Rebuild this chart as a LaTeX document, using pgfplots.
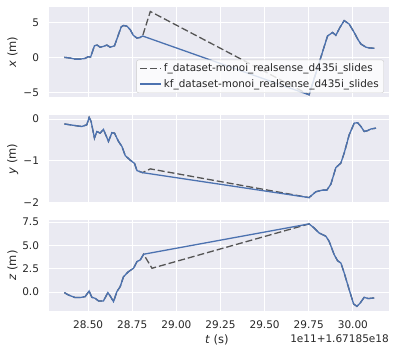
\documentclass[border=0pt]{standalone}
\usepackage{fontspec}
\setmainfont{DejaVu Sans}
\usepackage{pgfplots}
\pgfplotsset{compat=1.18}
\definecolor{bgc}{HTML}{EAEAF2}
\definecolor{kfblue}{HTML}{4C72B0}
\definecolor{fgray}{HTML}{555555}
\definecolor{txt}{HTML}{262626}
\pgfplotsset{
 sns/.style={
  scale only axis, width=340pt,
  axis background/.style={fill=bgc},
  axis line style={draw=none},
  grid=major, major grid style={white, line width=0.9pt},
  major tick length=0pt,
  xmin=28.2784, xmax=30.2045,
  xtick={28.5,28.75,29,29.25,29.5,29.75,30},
  tick label style={font=\fontsize{10.5}{12}\selectfont, text=txt},
  yticklabel style={anchor=east, xshift=-6.5pt},
  xticklabel style={anchor=center, yshift=-14pt},
  ylabel style={at={(axis description cs:-0.107,0.5)}, anchor=center, font=\fontsize{11.5}{13}\selectfont, text=txt},
  xlabel style={at={(axis description cs:0.494,0)}, anchor=center, yshift=-29pt, font=\fontsize{11.5}{13}\selectfont, text=txt},
 },
 fst/.style={color=fgray, line width=1.3pt, dash pattern=on 7pt off 3pt},
 kfst/.style={color=kfblue, line width=1.3pt},
}
\begin{document}
\begin{tikzpicture}
\path[use as bounding box] (0,0) rectangle (396pt,353pt);
% panel x
\begin{axis}[sns, name=p1, at={(49pt,256pt)}, anchor=south west, height=90pt,
  ymin=-5.61, ymax=7.24, ytick={-5,0,5}, yticklabels={−5,0,5}, xticklabels={},
  ylabel={\textit{x} (m)},
  legend cell align=left,
  legend image code/.code={\draw[#1, line width=1.3pt] (0pt,0pt) -- (21pt,0pt);},
  legend style={at={(0.985,0.045)}, anchor=south east, draw=black!20, fill=white, fill opacity=0.8, text opacity=1, rounded corners=2pt, font=\fontsize{10.4}{12.5}\selectfont, text=txt, row sep=2pt, /tikz/every even column/.append style={column sep=5pt}},
]
\addplot[fst] coordinates {
(28.3653,0.05) (28.3977,-0.05) (28.4261,-0.2) (28.4545,-0.2) (28.4830,-0.1) (28.5,0.14) (28.5142,0.1) (28.5358,1.7) (28.5511,1.8) (28.5682,1.5) (28.5852,1.6) (28.6063,1.8) (28.625,1.5) (28.6494,1.7) (28.6705,3.2) (28.6875,4.4) (28.7006,4.6) (28.7199,4.5) (28.7386,4.0) (28.7557,3.2) (28.7767,2.8) (28.7955,2.9) (28.8085,3.1)
(28.8523,6.6)
(29.7517,-5.3) (29.7898,-2.24) (29.8182,0.04) (29.8563,3.1) (29.8847,3.6) (29.9034,3.2) (29.9261,4.3) (29.9506,5.3) (29.9790,4.8) (30.0074,3.6) (30.0284,2.6) (30.0455,1.95) (30.0739,1.5) (30.0966,1.38) (30.1210,1.35)
};
\addlegendentry{f\_dataset-monoi\_realsense\_d435i\_slides}
\addplot[kfst] coordinates {
(28.3653,0.05) (28.3977,-0.05) (28.4261,-0.2) (28.4545,-0.2) (28.4830,-0.1) (28.5,0.14) (28.5142,0.1) (28.5358,1.7) (28.5511,1.8) (28.5682,1.5) (28.5852,1.6) (28.6063,1.8) (28.625,1.5) (28.6494,1.7) (28.6705,3.2) (28.6875,4.4) (28.7006,4.6) (28.7199,4.5) (28.7386,4.0) (28.7557,3.2) (28.7767,2.8) (28.7955,2.9) (28.8085,3.1)
(29.7517,-5.3) (29.7898,-2.24) (29.8182,0.04) (29.8563,3.1) (29.8847,3.6) (29.9034,3.2) (29.9261,4.3) (29.9506,5.3) (29.9790,4.8) (30.0074,3.6) (30.0284,2.6) (30.0455,1.95) (30.0739,1.5) (30.0966,1.38) (30.1210,1.35)
};
\addlegendentry{kf\_dataset-monoi\_realsense\_d435i\_slides}
\end{axis}
% panel y
\begin{axis}[sns, name=p2, at={(49pt,150pt)}, anchor=south west, height=88pt,
  ymin=-2.02, ymax=0.096, ytick={-2,-1,0}, yticklabels={−2,−1,0}, xticklabels={},
  ylabel={\textit{y} (m)},
]
\addplot[fst] coordinates {
(28.3653,-0.12) (28.3977,-0.14) (28.4449,-0.17) (28.4642,-0.18) (28.4926,-0.14) (28.5057,0.04) (28.517,-0.06) (28.5358,-0.46) (28.5494,-0.3) (28.5682,-0.34) (28.5869,-0.25) (28.6153,-0.54) (28.6347,-0.33) (28.6494,-0.34) (28.6722,-0.54) (28.6915,-0.66) (28.7102,-0.88) (28.7386,-0.99) (28.7631,-1.07) (28.7767,-1.24) (28.8085,-1.29)
(28.8523,-1.2)
(29.7517,-1.89) (29.7898,-1.75) (29.8278,-1.71) (29.8523,-1.71) (29.875,-1.57) (29.9034,-1.17) (29.9318,-1.06) (29.9506,-0.82) (29.9790,-0.38) (30.0074,-0.10) (30.0267,-0.09) (30.0455,-0.18) (30.0642,-0.30) (30.0835,-0.28) (30.1023,-0.24) (30.1307,-0.22)
};
\addplot[kfst] coordinates {
(28.3653,-0.12) (28.3977,-0.14) (28.4449,-0.17) (28.4642,-0.18) (28.4926,-0.14) (28.5057,0.04) (28.517,-0.06) (28.5358,-0.46) (28.5494,-0.3) (28.5682,-0.34) (28.5869,-0.25) (28.6153,-0.54) (28.6347,-0.33) (28.6494,-0.34) (28.6722,-0.54) (28.6915,-0.66) (28.7102,-0.88) (28.7386,-0.99) (28.7631,-1.07) (28.7767,-1.24) (28.8085,-1.29)
(29.7517,-1.89) (29.7898,-1.75) (29.8278,-1.71) (29.8523,-1.71) (29.875,-1.57) (29.9034,-1.17) (29.9318,-1.06) (29.9506,-0.82) (29.9790,-0.38) (30.0074,-0.10) (30.0267,-0.09) (30.0455,-0.18) (30.0642,-0.30) (30.0835,-0.28) (30.1023,-0.24) (30.1307,-0.22)
};
\end{axis}
% panel z
\begin{axis}[sns, name=p3, at={(49pt,42pt)}, anchor=south west, height=91pt,
  ymin=-2.04, ymax=7.71, ytick={0,2.5,5,7.5}, yticklabels={0.0,2.5,5.0,7.5},
  xticklabels={28.50,28.75,29.00,29.25,29.50,29.75,30.00},
  ylabel={\textit{z} (m)}, xlabel={\textit{t} (s)},
]
\addplot[fst] coordinates {
(28.3653,-0.07) (28.3881,-0.32) (28.4261,-0.6) (28.4545,-0.6) (28.4830,-0.5) (28.5057,0.1) (28.5210,-0.57) (28.5398,-0.68) (28.5585,-0.96) (28.5869,-0.96) (28.6119,-0.07) (28.625,-0.43) (28.6438,-1.04) (28.6631,0.04) (28.6818,0.57) (28.7006,1.64) (28.7290,2.18) (28.7574,2.54) (28.7767,3.25) (28.7955,3.43) (28.8142,4.04)
(28.8619,2.54)
(29.7517,7.29) (29.7801,6.86) (29.8085,6.32) (29.8466,5.97) (29.8653,5.43) (29.8938,4.0) (29.9131,3.35) (29.9318,3.1) (29.9506,2.04) (29.9790,0.25) (30.0040,-1.29) (30.0227,-1.54) (30.0415,-1.18) (30.0642,-0.57) (30.0869,-0.71) (30.1210,-0.64)
};
\addplot[kfst] coordinates {
(28.3653,-0.07) (28.3881,-0.32) (28.4261,-0.6) (28.4545,-0.6) (28.4830,-0.5) (28.5057,0.1) (28.5210,-0.57) (28.5398,-0.68) (28.5585,-0.96) (28.5869,-0.96) (28.6119,-0.07) (28.625,-0.43) (28.6438,-1.04) (28.6631,0.04) (28.6818,0.57) (28.7006,1.64) (28.7290,2.18) (28.7574,2.54) (28.7767,3.25) (28.7955,3.43) (28.8142,4.04)
(29.7517,7.29) (29.7801,6.86) (29.8085,6.32) (29.8466,5.97) (29.8653,5.43) (29.8938,4.0) (29.9131,3.35) (29.9318,3.1) (29.9506,2.04) (29.9790,0.25) (30.0040,-1.29) (30.0227,-1.54) (30.0415,-1.18) (30.0642,-0.57) (30.0869,-0.71) (30.1210,-0.64)
};
\end{axis}
\node[anchor=east, font=\fontsize{10.5}{12}\selectfont, text=txt, inner sep=0pt] at ([yshift=-28pt]p3.south east) {1e11+1.67185e18};
\end{tikzpicture}
\end{document}
